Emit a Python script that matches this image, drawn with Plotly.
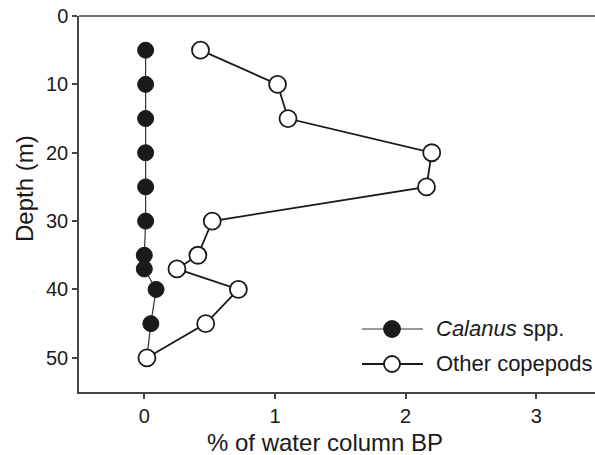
import plotly.graph_objects as go

depth = [5, 10, 15, 20, 25, 30, 35, 37, 40, 45, 50]
calanus = [0.01, 0.01, 0.01, 0.01, 0.01, 0.01, 0.0, 0.0, 0.09, 0.05, 0.02]
others = [0.43, 1.02, 1.10, 2.20, 2.16, 0.52, 0.41, 0.25, 0.72, 0.47, 0.02]
x_ticks = [0, 1, 2, 3]
y_ticks = [0, 10, 20, 30, 40, 50]
names = ["<i>Calanus</i> spp.", "Other copepods"]
x_title = "% of water column BP"
y_title = "Depth (m)"

FONT = "Liberation Sans, Arial, Helvetica, sans-serif"
INK = "#1a1a1a"
AX = "#444444"

fig = go.Figure()
fig.add_trace(go.Scatter(
    x=calanus, y=depth, mode="lines+markers", name=names[0],
    line=dict(color="#333333", width=1.2),
    marker=dict(size=16, color=INK, line=dict(color=INK, width=1)),
    showlegend=False,
))
fig.add_trace(go.Scatter(
    x=others, y=depth, mode="lines+markers", name=names[1],
    line=dict(color=INK, width=1.8),
    marker=dict(size=17, color="white", line=dict(color=INK, width=1.8)),
    showlegend=False,
))

# manual legend (paper coordinates)
rows = [(0.1676, "#333333", 1.2, INK), (0.0745, INK, 1.8, "white")]
for (yy, lc, lw, fc), nm in zip(rows, names):
    fig.add_shape(type="line", xref="paper", yref="paper",
                  x0=0.5484, x1=0.6667, y0=yy, y1=yy,
                  line=dict(color=lc, width=lw))
    fig.add_shape(type="circle", xref="paper", yref="paper",
                  xsizemode="pixel", ysizemode="pixel",
                  xanchor=0.6066, yanchor=yy,
                  x0=-8, x1=8, y0=-8, y1=8,
                  fillcolor=fc, line=dict(color=INK, width=1.8))
    fig.add_annotation(xref="paper", yref="paper", x=0.6952, y=yy,
                       text=nm, showarrow=False, xanchor="left",
                       yanchor="middle", xshift=-4,
                       font=dict(family=FONT, size=22, color=INK))

# axis titles as annotations for precise placement
fig.add_annotation(xref="paper", yref="paper", x=0.476, y=0,
                   yshift=-50, yanchor="middle", xanchor="center",
                   text=x_title, showarrow=False,
                   font=dict(family=FONT, size=24, color=INK))
fig.add_annotation(xref="paper", yref="paper", x=0, y=0.54,
                   xshift=-54, xanchor="center", yanchor="middle",
                   textangle=-90, text=y_title, showarrow=False,
                   font=dict(family=FONT, size=24, color=INK))

axis_common = dict(
    showgrid=False, zeroline=False, showline=True,
    linecolor=AX, linewidth=1.5,
    ticks="outside", ticklen=5, tickwidth=1.5, tickcolor=AX,
    tickfont=dict(family=FONT, size=20, color=INK),
)
fig.update_xaxes(range=[-0.5, 3.45], tickvals=x_ticks, **axis_common)
fig.update_yaxes(range=[55, 0], tickvals=y_ticks, **axis_common)
# top border line
fig.add_shape(type="line", xref="paper", yref="paper", x0=0, x1=1, y0=1, y1=1,
              line=dict(color=AX, width=1.5))

fig.update_layout(
    width=595, height=455,
    margin=dict(l=79, r=0, t=16, b=63),
    plot_bgcolor="white", paper_bgcolor="white",
    font=dict(family=FONT, color=INK),
)
fig.write_html("out.html", config={"displayModeBar": False},
               post_script="document.body.style.margin='0';")
